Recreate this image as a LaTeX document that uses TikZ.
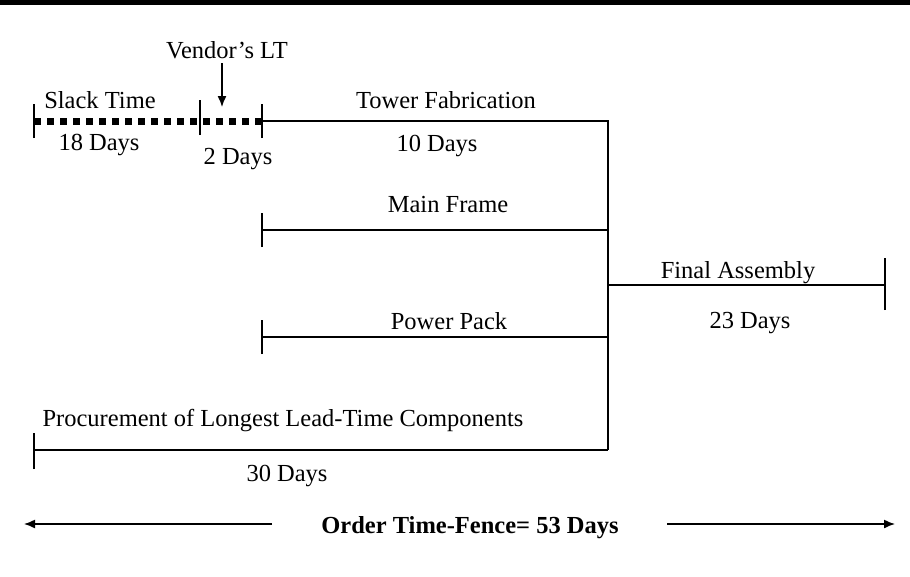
\documentclass[tikz,border=0pt]{standalone}
\usepackage{fontspec}
\setmainfont{Liberation Serif}
\usetikzlibrary{arrows.meta}
\begin{document}
\begin{tikzpicture}[x=1pt,y=-1pt,
  lbl/.style={inner sep=0pt,font=\fontsize{24.5}{29}\selectfont},
  bar/.style={line width=1.4pt},
  slack/.style={line width=7pt,dash pattern=on 7pt off 6pt},
  fence/.style={line width=1.4pt,-{Latex[length=11pt,width=9pt]}}]
\useasboundingbox (0,0) rectangle (910,576);
\draw[line width=5pt] (0,2.5) -- (910,2.5);

% end points
\coordinate (s0) at (34,121);
\coordinate (s1) at (200,121);
\coordinate (s2) at (262,121);
\coordinate (join) at (608,121);
\coordinate (mf) at (262,230);
\coordinate (mfj) at (608,230);
\coordinate (pp) at (262,337);
\coordinate (ppj) at (608,337);
\coordinate (fa) at (608,285);
\coordinate (fae) at (885,285);
\coordinate (pr) at (34,450);
\coordinate (prj) at (608,450);
\coordinate (vt) at (222,63);
\coordinate (vb) at (222,107);
\coordinate (la) at (272,524);
\coordinate (lb) at (24,524);
\coordinate (ra) at (667,524);
\coordinate (rb) at (895,524);

% lines
\draw[slack] (s0) -- (s2);
\draw[bar] (s2) -- (join) -- (prj);
\draw[bar] (mf) -- (mfj);
\draw[bar] (pp) -- (ppj);
\draw[bar] (fa) -- (fae);
\draw[bar] (pr) -- (prj);

% ticks
\draw[bar] ([yshift=-17pt]s0) -- ([yshift=17pt]s0);
\draw[bar] ([yshift=-14pt]s1) -- ([yshift=21pt]s1);
\draw[bar] ([yshift=-17pt]s2) -- ([yshift=17pt]s2);
\draw[bar] ([yshift=-17pt]mf) -- ([yshift=17pt]mf);
\draw[bar] ([yshift=-17pt]pp) -- ([yshift=17pt]pp);
\draw[bar] ([yshift=-25pt]fae) -- ([yshift=27pt]fae);
\draw[bar] ([yshift=-19pt]pr) -- ([yshift=17pt]pr);

\draw[fence] (vt) -- (vb);
\draw[fence] (la) -- (lb);
\draw[fence] (ra) -- (rb);

% labels
\node[lbl] (vendor) at (227,50) {Vendor’s LT};
\node[lbl] (slacktxt) at (100,100) {Slack Time};
\node[lbl] (d18) at (99,145) {18 Days};
\node[lbl] (d2) at (238,159) {2 Days};
\node[lbl] (tower) at (446,100) {Tower Fabrication};
\node[lbl] (d10) at (437,146) {10 Days};
\node[lbl] (frame) at (448,205) {Main Frame};
\node[lbl] (power) at (449,321) {Power Pack};
\node[lbl] (final) at (738,273) {Final Assembly};
\node[lbl] (d23) at (750,323) {23 Days};
\node[lbl] (proc) at (283,421) {Procurement of Longest Lead-Time Components};
\node[lbl] (d30) at (287,476) {30 Days};
\node[lbl,font=\fontsize{24.5}{29}\selectfont\bfseries] (fencetxt) at (470,528) {Order Time-Fence= 53 Days};
\end{tikzpicture}
\end{document}
